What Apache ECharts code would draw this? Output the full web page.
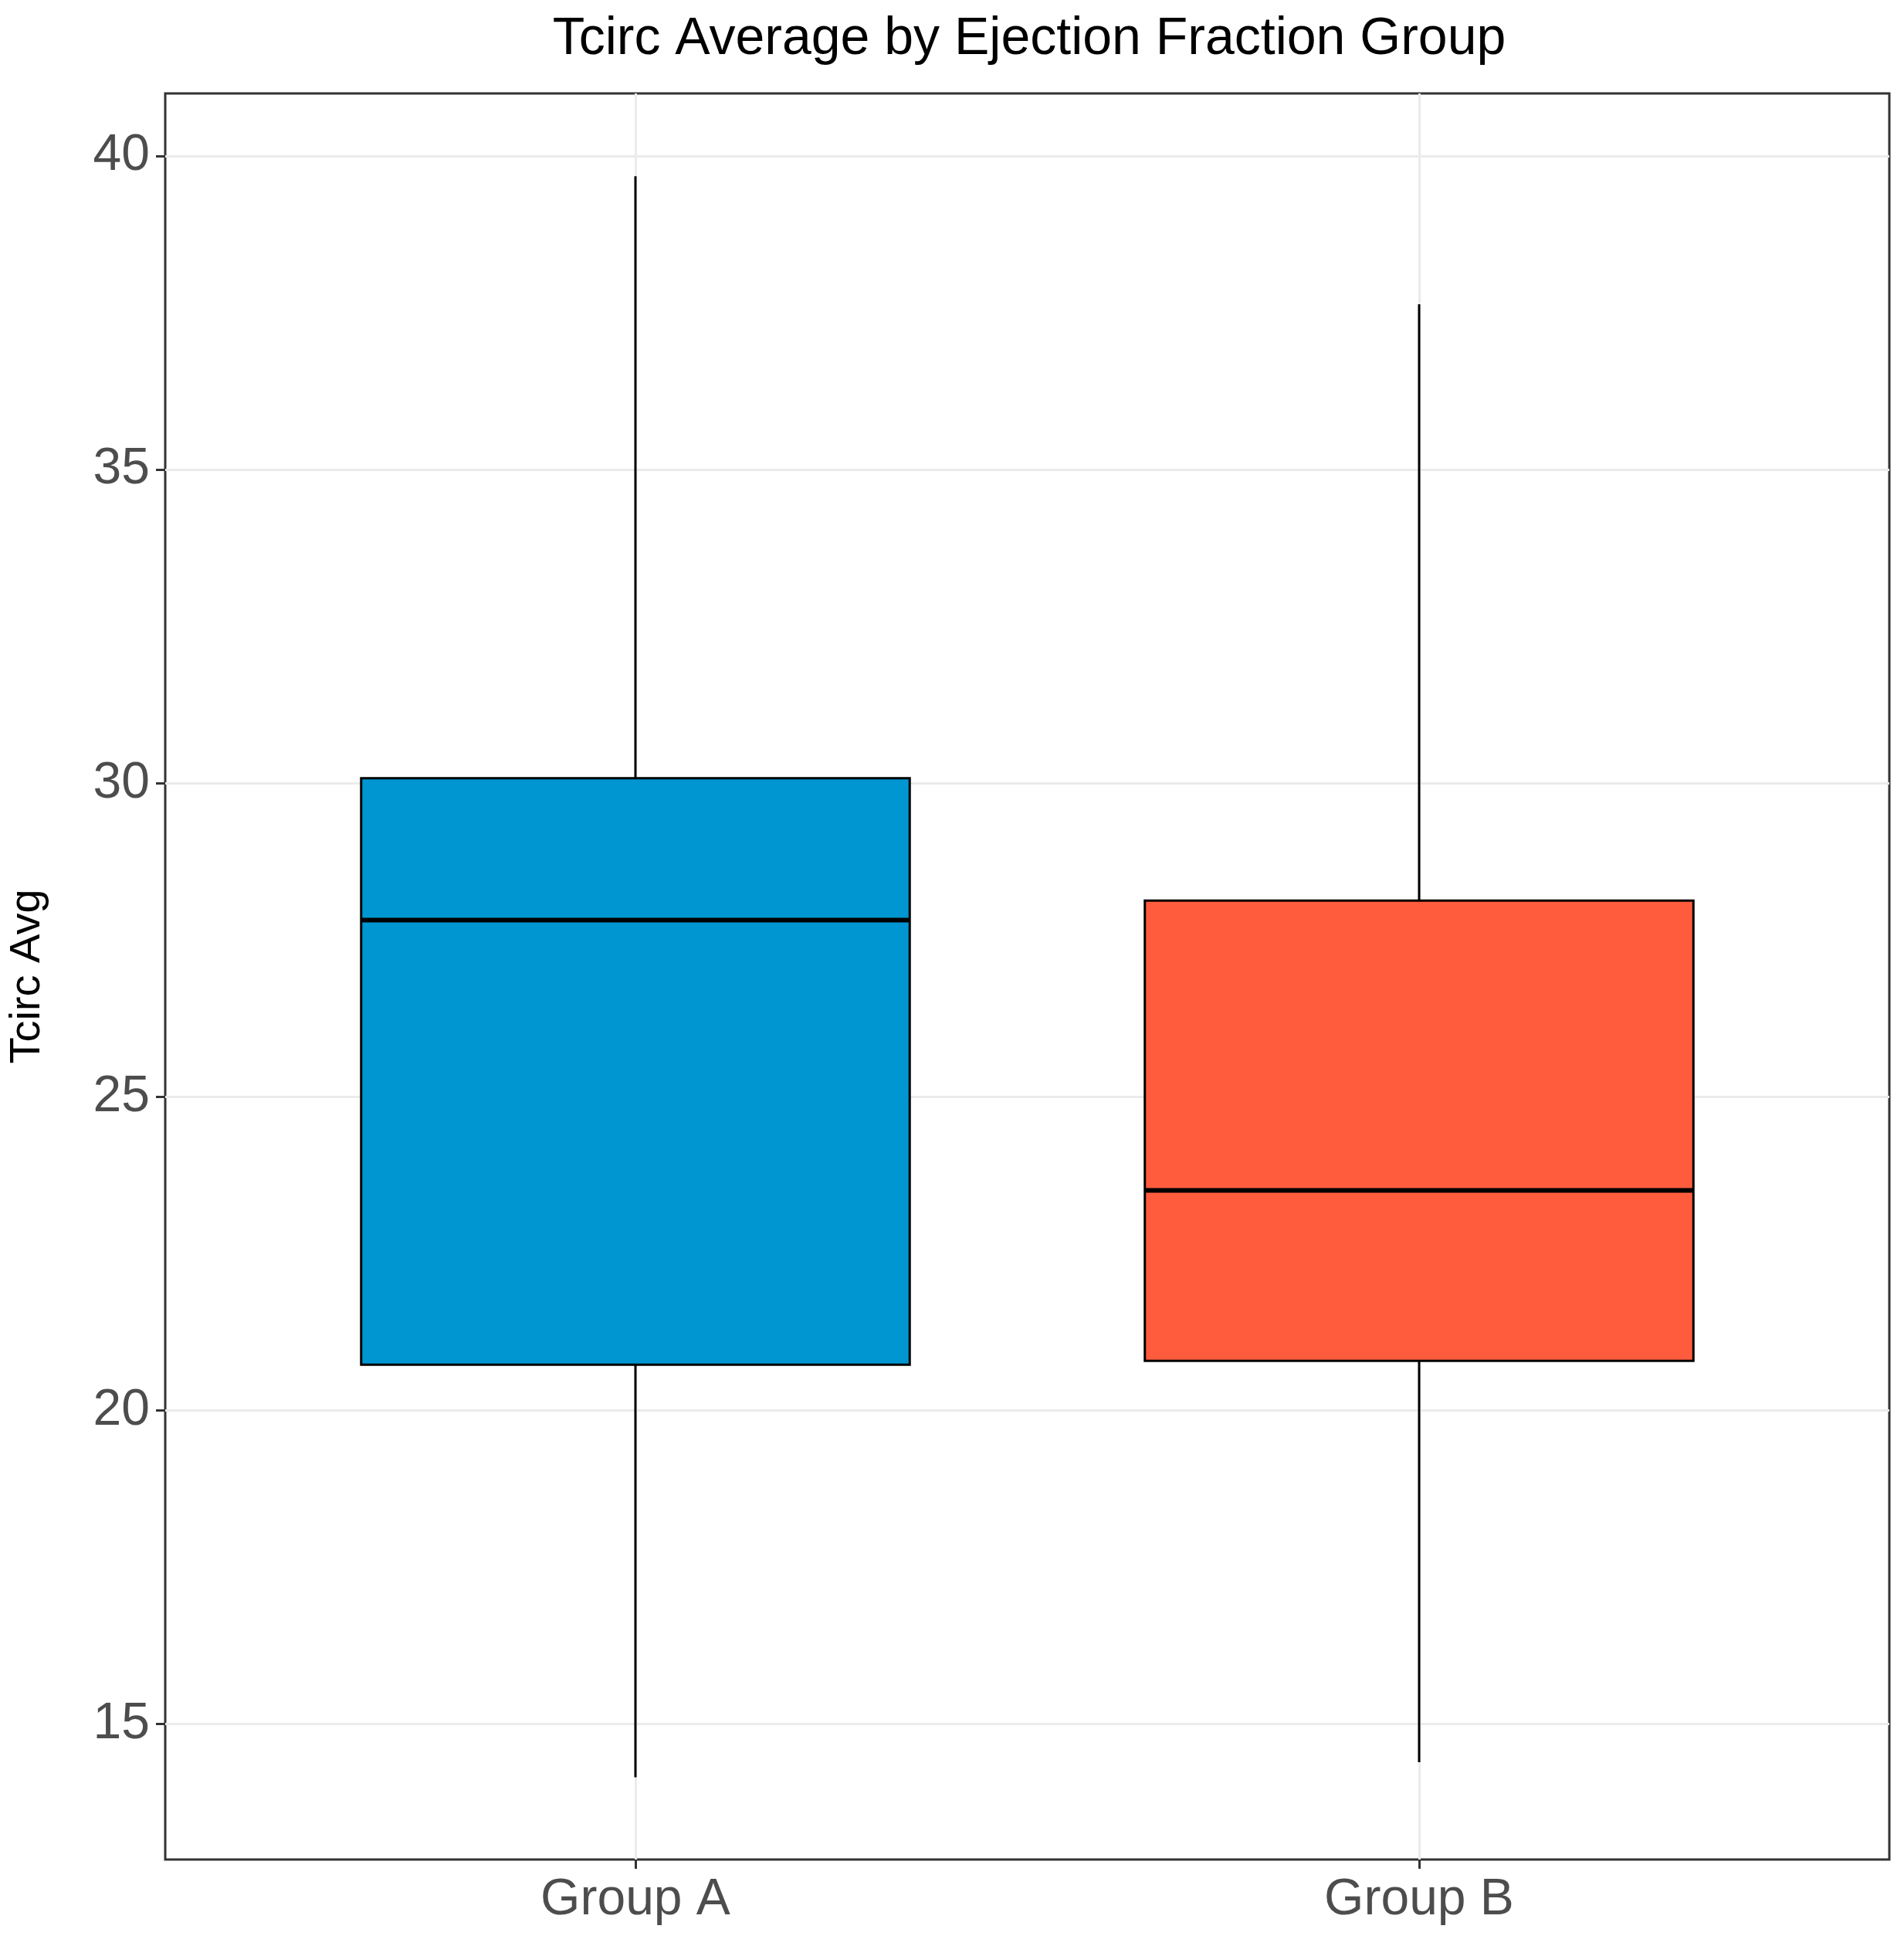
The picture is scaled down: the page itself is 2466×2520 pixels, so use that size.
<!DOCTYPE html>
<html>
<head>
<meta charset="utf-8">
<script src="https://cdn.jsdelivr.net/npm/echarts@6/dist/echarts.min.js"></script>
<style>
html, body { margin: 0; padding: 0; background: #fff; }
#chart { width: 2466px; height: 2520px; }
</style>
</head>
<body>
<div id="chart"></div>
<script>
// values
let groups = ['Group A', 'Group B'];
let lowWhisker = [14.15, 14.39];
let q1 = [20.73, 20.79];
let medians = [27.82, 23.51];
let q3 = [30.08, 28.13];
let highWhisker = [39.68, 37.64];
let fills = ['#0096d1', '#ff5c3d'];
let yTicks = [15, 20, 25, 30, 35, 40];

let myChart = echarts.init(document.getElementById('chart'));
let boxWidth = 0.7;

let seriesData = groups.map(function(name, i) {
    return [i + 1, lowWhisker[i], q1[i], medians[i], q3[i], highWhisker[i]];
});

let renderBox = function(params, api) {
    let x = api.value(0);
    let left = api.coord([x - boxWidth / 2, 0])[0];
    let right = api.coord([x + boxWidth / 2, 0])[0];
    let cx = api.coord([x, 0])[0];
    let yLow = api.coord([x, api.value(1)])[1];
    let yQ1 = api.coord([x, api.value(2)])[1];
    let yMed = api.coord([x, api.value(3)])[1];
    let yQ3 = api.coord([x, api.value(4)])[1];
    let yHigh = api.coord([x, api.value(5)])[1];
    let lineStyle = { stroke: '#000', lineWidth: 3 };
    return {
        type: 'group',
        children: [
            { type: 'line', shape: { x1: cx, y1: yHigh, x2: cx, y2: yQ3 }, style: lineStyle },
            { type: 'line', shape: { x1: cx, y1: yQ1, x2: cx, y2: yLow }, style: lineStyle },
            {
                type: 'rect',
                shape: { x: left, y: yQ3, width: right - left, height: yQ1 - yQ3 },
                style: { fill: fills[params.dataIndex], stroke: '#000', lineWidth: 3 }
            },
            { type: 'line', shape: { x1: left, y1: yMed, x2: right, y2: yMed }, style: { stroke: '#000', lineWidth: 6 } }
        ]
    };
};

let options = {
    backgroundColor: '#fff',
    animation: false,
    title: {
        text: 'Tcirc Average by Ejection Fraction Group',
        left: 1328,
        textAlign: 'center',
        top: 12,
        textStyle: { fontFamily: 'Liberation Sans', fontSize: 68, fontWeight: 'normal', color: '#000' }
    },
    grid: {
        left: 210,
        right: 19,
        top: 121,
        bottom: 112,
        show: true,
        borderColor: '#333',
        borderWidth: 3,
        backgroundColor: 'transparent'
    },
    xAxis: {
        type: 'value',
        min: 0.4,
        max: 2.6,
        axisLine: { show: false },
        axisTick: { show: true, length: 12, lineStyle: { color: '#333', width: 3 }, customValues: [1, 2] },
        axisLabel: {
            customValues: [1, 2],
            formatter: function(v) { return groups[Math.round(v) - 1] || ''; },
            fontFamily: 'Liberation Sans', fontSize: 66, color: '#4d4d4d', margin: 20
        },
        splitLine: { show: true, lineStyle: { color: '#ebebeb', width: 3 } }
    },
    yAxis: {
        type: 'value',
        min: 12.84,
        max: 41,
        name: 'Tcirc Avg',
        nameLocation: 'middle',
        nameGap: 150,
        nameTextStyle: { fontFamily: 'Liberation Sans', fontSize: 56, color: '#000' },
        axisLine: { show: false },
        axisTick: { show: true, length: 12, lineStyle: { color: '#333', width: 3 }, customValues: yTicks },
        axisLabel: {
            customValues: yTicks,
            fontFamily: 'Liberation Sans', fontSize: 66, color: '#4d4d4d', margin: 20
        },
        splitLine: { show: true, lineStyle: { color: '#ebebeb', width: 3 } }
    },
    series: [
        {
            type: 'custom',
            renderItem: renderBox,
            data: seriesData,
            encode: { x: 0, y: [1, 2, 3, 4, 5] },
            z: 10
        }
    ]
};

myChart.setOption(options);
</script>
</body>
</html>
